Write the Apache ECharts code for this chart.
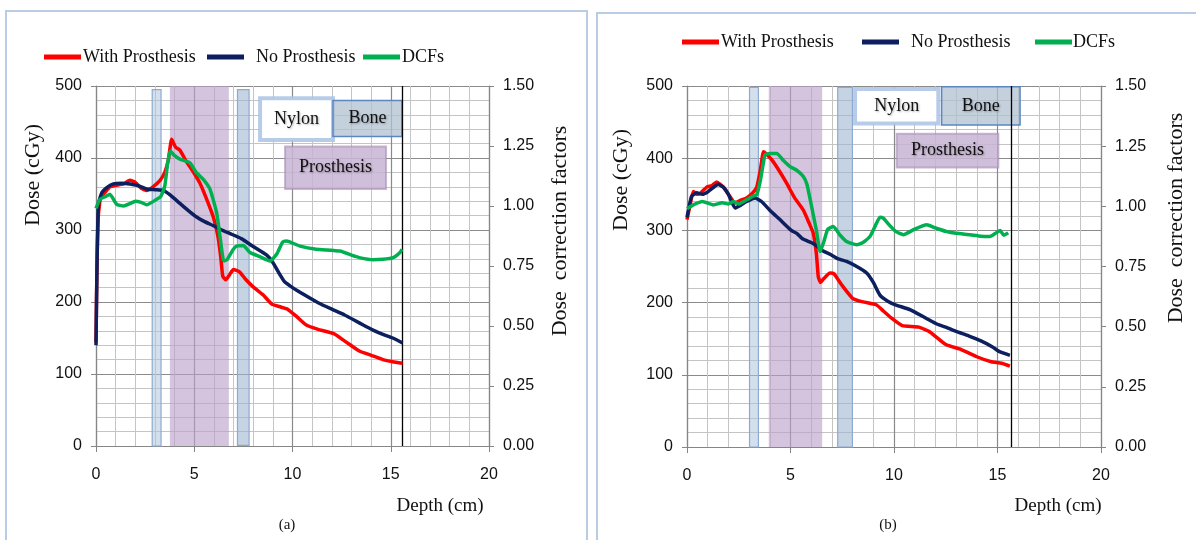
<!DOCTYPE html>
<html><head><meta charset="utf-8">
<script src="https://cdn.jsdelivr.net/npm/echarts@6/dist/echarts.min.js"></script>
<style>html,body{margin:0;padding:0;background:#fff}#c{width:1196px;height:540px}</style>
</head><body><div id="c"></div>
<script>
// ---- tick values ----
const depthTicks = [0, 5, 10, 15, 20];
const doseTicks = [0, 100, 200, 300, 400, 500];
const dcfTicks = [0, 0.25, 0.5, 0.75, 1.0, 1.25, 1.5];
const seriesNames = ['With Prosthesis', 'No Prosthesis', 'DCFs'];

// ---- panel (a) : [depth cm, dose cGy] / [depth cm, DCF] ----
const withProsA = [[0,144],[0.05,250],[0.12,320],[0.24,346],[0.45,352],[0.71,360],[1.0,362],[1.4,364],[1.73,369],[2.0,366],[2.3,358],[2.58,355],[2.9,360],[3.26,369],[3.5,380],[3.68,397],[3.85,426],[4.05,415],[4.27,411],[4.6,395],[4.9,383],[5.29,365],[5.6,345],[5.97,318],[6.2,292],[6.35,262],[6.45,236],[6.6,231],[6.8,238],[6.99,245],[7.3,242],[7.6,232],[8.0,221],[8.5,210],[8.95,197],[9.4,193],[9.75,190],[10.2,180],[10.7,168],[11.3,162],[12.1,156],[12.7,145],[13.4,132],[14.0,126],[14.6,120],[15.1,117],[15.6,115]];
const noProsA = [[0,140],[0.04,230],[0.12,335],[0.3,352],[0.6,360],[0.88,364],[1.3,365],[1.73,364],[2.1,362],[2.58,357],[3.0,356],[3.43,355],[3.8,348],[4.27,337],[4.7,327],[5.12,318],[5.5,312],[5.97,306],[6.4,300],[6.82,295],[7.4,288],[8.0,277],[8.69,265],[9.0,255],[9.36,238],[9.6,228],[10.0,220],[10.6,210],[11.3,199],[12.0,190],[12.65,182],[13.2,174],[13.6,168],[14.1,161],[14.6,155],[15.1,150],[15.6,143]];
const dcfA = [[0,0.99],[0.2,1.028],[0.5,1.04],[0.71,1.049],[1.05,1.007],[1.4,1.0],[1.73,1.01],[2.0,1.02],[2.3,1.015],[2.58,1.005],[3.09,1.028],[3.3,1.04],[3.5,1.083],[3.65,1.18],[3.77,1.229],[4.0,1.21],[4.27,1.195],[4.78,1.18],[5.1,1.14],[5.46,1.111],[5.8,1.07],[6.14,0.972],[6.3,0.88],[6.5,0.771],[6.65,0.775],[6.99,0.82],[7.16,0.833],[7.5,0.835],[7.84,0.806],[8.3,0.79],[8.86,0.771],[9.2,0.8],[9.5,0.85],[9.7,0.854],[10.38,0.833],[11.2,0.82],[12.42,0.8125],[13.0,0.795],[13.4,0.785],[14.1,0.776],[14.6,0.778],[15.13,0.785],[15.47,0.806],[15.57,0.82]];

// ---- panel (b) ----
const withProsB = [[0,315],[0.15,335],[0.3,354],[0.47,350],[0.63,351],[0.95,360],[1.2,362],[1.43,367],[1.75,360],[2.0,350],[2.32,338],[2.6,342],[2.88,345],[3.17,352],[3.37,360],[3.55,385],[3.69,409],[3.8,407],[4.09,398],[4.4,385],[4.82,365],[5.2,345],[5.62,328],[5.9,310],[6.1,296],[6.25,268],[6.34,236],[6.45,228],[6.6,233],[6.91,241],[7.1,240],[7.46,225],[8.0,206],[8.5,201],[9.14,197],[9.5,188],[9.9,178],[10.4,168],[11.2,166],[11.75,159],[12.5,142],[13.25,135],[14.0,125],[14.7,118],[15.2,116],[15.6,112]];
const noProsB = [[0,318],[0.22,347],[0.47,352],[0.75,350],[1.03,354],[1.3,360],[1.5,364],[1.75,360],[2.0,350],[2.32,331],[2.6,335],[2.88,340],[3.29,345],[3.6,340],[4.0,328],[4.49,315],[5.04,300],[5.3,296],[5.6,288],[6.1,282],[6.6,271],[6.91,267],[7.28,261],[7.71,257],[8.2,250],[8.68,241],[9.0,228],[9.33,210],[9.7,202],[10.07,197],[10.8,190],[11.57,178],[12.1,170],[12.5,166],[13.0,160],[13.6,154],[14.2,147],[14.74,139],[15.1,132],[15.6,127]];
const dcfB = [[0,0.99],[0.3,1.006],[0.75,1.02],[1.27,1.006],[1.7,1.015],[2.0,1.01],[2.24,1.02],[2.5,1.01],[2.88,1.027],[3.17,1.042],[3.37,1.048],[3.55,1.11],[3.77,1.214],[4.0,1.22],[4.34,1.22],[4.66,1.19],[4.98,1.165],[5.3,1.15],[5.62,1.124],[5.8,1.09],[6.02,0.999],[6.25,0.9],[6.43,0.812],[6.6,0.85],[6.8,0.905],[7.07,0.916],[7.4,0.88],[7.71,0.854],[8.19,0.84],[8.5,0.85],[8.84,0.875],[9.1,0.92],[9.32,0.955],[9.48,0.951],[9.8,0.92],[10.1,0.895],[10.45,0.882],[11.0,0.905],[11.58,0.923],[12.0,0.91],[12.55,0.895],[13.0,0.888],[13.67,0.882],[14.2,0.876],[14.64,0.875],[14.9,0.888],[15.13,0.9],[15.3,0.88],[15.52,0.889]];

// ---- layer regions [kind, label, x0, x1, y0, y1] in data units ----
const regionsA = [
  ['strip', '', 2.86, 3.31, 0, 495],
  ['pros', '', 3.76, 6.76, 0, 500],
  ['bone', '', 7.2, 7.79, 1, 495],
  ['nylonKey', 'Nylon', 8.35, 12.06, 425, 483],
  ['boneKey', 'Bone', 12.06, 15.57, 430, 480],
  ['prosKey', 'Prosthesis', 9.62, 14.76, 357, 416]
];
const regionsB = [
  ['strip', '', 3.02, 3.45, 0, 498],
  ['pros', '', 3.95, 6.53, 0, 500],
  ['bone', '', 7.28, 7.99, 0, 498],
  ['nylonKey', 'Nylon', 8.12, 12.14, 448, 496],
  ['boneKey', 'Bone', 12.3, 16.09, 446, 499],
  ['prosKey', 'Prosthesis', 10.13, 15.04, 387, 434]
];
const edgeDepthA = 15.6, edgeDepthB = 15.65;

// ---- styles ----
const regionStyle = {
  strip:    {color: 'rgba(176,196,222,0.55)', borderColor: '#8eaad0', borderWidth: 1.2},
  pros:     {color: 'rgba(186,160,200,0.62)', borderWidth: 0},
  bone:     {color: 'rgba(160,182,208,0.6)', borderColor: '#8eaad0', borderWidth: 1.2},
  nylonKey: {color: 'rgba(255,255,255,1)', borderColor: 'rgba(170,195,228,0.85)', borderWidth: 4},
  boneKey:  {color: 'rgba(178,192,210,0.75)', borderColor: '#5b86c0', borderWidth: 1.5},
  prosKey:  {color: 'rgba(200,180,212,0.85)', borderColor: 'rgba(165,140,180,0.6)', borderWidth: 2}
};
const colors = ['#ff0000', '#0c1f5e', '#00b050'];
const serif = 'Liberation Serif';
const sansN = '"Liberation Sans Narrow", "Liberation Sans", Arial, sans-serif';

function areas(regions) {
  return regions.map(r => [
    {name: r[1], xAxis: r[2], yAxis: r[4], itemStyle: regionStyle[r[0]], label: {show: !!r[1]}},
    {xAxis: r[3], yAxis: r[5]}
  ]);
}
function markAreaOf(regions) {
  return {silent: true, data: areas(regions),
          label: {show: true, position: 'inside', formatter: '{b}', color: '#111', fontFamily: serif, fontSize: 18,
                  textShadowColor: 'rgba(0,0,0,0.3)', textShadowBlur: 2, textShadowOffsetX: 1, textShadowOffsetY: 1}};
}

const gridsPx = [
  {left: 96, top: 86, width: 393, height: 360},
  {left: 687, top: 86, width: 414, height: 361}
];

function xAxis(gi) {
  return {
    type: 'value', gridIndex: gi,
    min: depthTicks[0], max: depthTicks[depthTicks.length - 1], interval: depthTicks[1] - depthTicks[0],
    axisLine: {show: true, lineStyle: {color: '#868686', width: 1.2}},
    axisTick: {show: true, length: 6, lineStyle: {color: '#868686'}},
    axisLabel: {color: '#111', fontFamily: sansN, fontSize: 16, margin: 21},
    splitLine: {show: true, lineStyle: {color: '#8a8a8a', width: 1.2}},
    minorTick: {show: false, splitNumber: 5},
    minorSplitLine: {show: true, lineStyle: {color: '#c4c4c4', width: 1}}
  };
}
function yLeft(gi) {
  return {
    type: 'value', gridIndex: gi,
    min: doseTicks[0], max: doseTicks[doseTicks.length - 1], interval: doseTicks[1] - doseTicks[0],
    axisLine: {show: true, lineStyle: {color: '#868686', width: 1.2}},
    axisTick: {show: true, length: 5, lineStyle: {color: '#868686'}},
    axisLabel: {color: '#111', fontFamily: sansN, fontSize: 16, margin: 14},
    splitLine: {show: true, lineStyle: {color: '#8a8a8a', width: 1.2}},
    minorTick: {show: false, splitNumber: 5},
    minorSplitLine: {show: true, lineStyle: {color: '#c4c4c4', width: 1}}
  };
}
function yRight(gi) {
  return {
    type: 'value', gridIndex: gi, position: 'right',
    min: dcfTicks[0], max: dcfTicks[dcfTicks.length - 1], interval: dcfTicks[1] - dcfTicks[0],
    axisLine: {show: true, lineStyle: {color: '#868686', width: 1.2}},
    axisTick: {show: true, length: 5, lineStyle: {color: '#868686'}},
    axisLabel: {color: '#111', fontFamily: sansN, fontSize: 16, margin: 14, formatter: v => v.toFixed(2)},
    splitLine: {show: false}
  };
}

function lineSeries(name, data, gi, yi, color, extra) {
  return Object.assign({
    type: 'line', name: name, data: data, xAxisIndex: gi, yAxisIndex: yi,
    showSymbol: false, symbol: 'none', smooth: 0.15,
    lineStyle: {color: color, width: 3.5}, itemStyle: {color: color}, z: 5
  }, extra || {});
}

function vline(depth) {
  return {silent: true, symbol: ['none', 'none'], label: {show: false},
          lineStyle: {color: '#000', width: 1.3, type: 'solid'}, data: [{xAxis: depth}]};
}

const series = [
  lineSeries(seriesNames[0], withProsA, 0, 0, colors[0], {markArea: markAreaOf(regionsA), markLine: vline(edgeDepthA)}),
  lineSeries(seriesNames[1], noProsA, 0, 0, colors[1]),
  lineSeries(seriesNames[2], dcfA, 0, 1, colors[2]),
  lineSeries(seriesNames[0], withProsB, 1, 2, colors[0], {markArea: markAreaOf(regionsB), markLine: vline(edgeDepthB)}),
  lineSeries(seriesNames[1], noProsB, 1, 2, colors[1]),
  lineSeries(seriesNames[2], dcfB, 1, 3, colors[2])
];

function legendItem(name, left, cy, padL) {
  return {data: [name], left: left, top: cy - 9, padding: 0, icon: 'rect', itemWidth: 37, itemHeight: 5,
          itemGap: 0, selectedMode: false, textStyle: {fontFamily: serif, fontSize: 18, color: '#111', padding: [0, 0, 0, padL]}};
}

function txt(x, y, s, rot, size) {
  return {type: 'text', x: x, y: y, rotation: rot || 0,
          style: {text: s, fill: '#111', font: (size || 18) + 'px "Liberation Serif"', textAlign: 'center', textVerticalAlign: 'middle'}};
}

const option = {
  animation: false,
  backgroundColor: '#fff',
  grid: gridsPx.map(g => Object.assign({containLabel: false}, g)),
  xAxis: [xAxis(0), xAxis(1)],
  yAxis: [yLeft(0), yRight(0), yLeft(1), yRight(1)],
  legend: [
    legendItem(seriesNames[0], 44, 57, -3), legendItem(seriesNames[1], 207, 57, 7), legendItem(seriesNames[2], 363, 57, -3),
    legendItem(seriesNames[0], 682, 42, -3), legendItem(seriesNames[1], 862, 42, 7), legendItem(seriesNames[2], 1035, 42, -4)
  ],
  series: series,
  graphic: [
    {type: 'rect', shape: {x: 6, y: 11, width: 581, height: 545}, style: {fill: 'none', stroke: '#b8cce4', lineWidth: 2}, z: -10},
    {type: 'rect', shape: {x: 597, y: 13, width: 620, height: 545}, style: {fill: 'none', stroke: '#b8cce4', lineWidth: 2}, z: -10},
    txt(33, 175, 'Dose (cGy)', Math.PI / 2, 22),
    txt(560, 231, 'Dose  correction factors', Math.PI / 2, 22),
    txt(440, 506, 'Depth (cm)', 0, 19),
    txt(287, 525, '(a)', 0, 15),
    txt(621, 180, 'Dose (cGy)', Math.PI / 2, 22),
    txt(1176, 218, 'Dose  correction factors', Math.PI / 2, 22),
    txt(1058, 506, 'Depth (cm)', 0, 19),
    txt(888, 525, '(b)', 0, 15)
  ]
};

const chart = echarts.init(document.getElementById('c'), null, {renderer: 'canvas'});
chart.setOption(option);
</script>
</body></html>
